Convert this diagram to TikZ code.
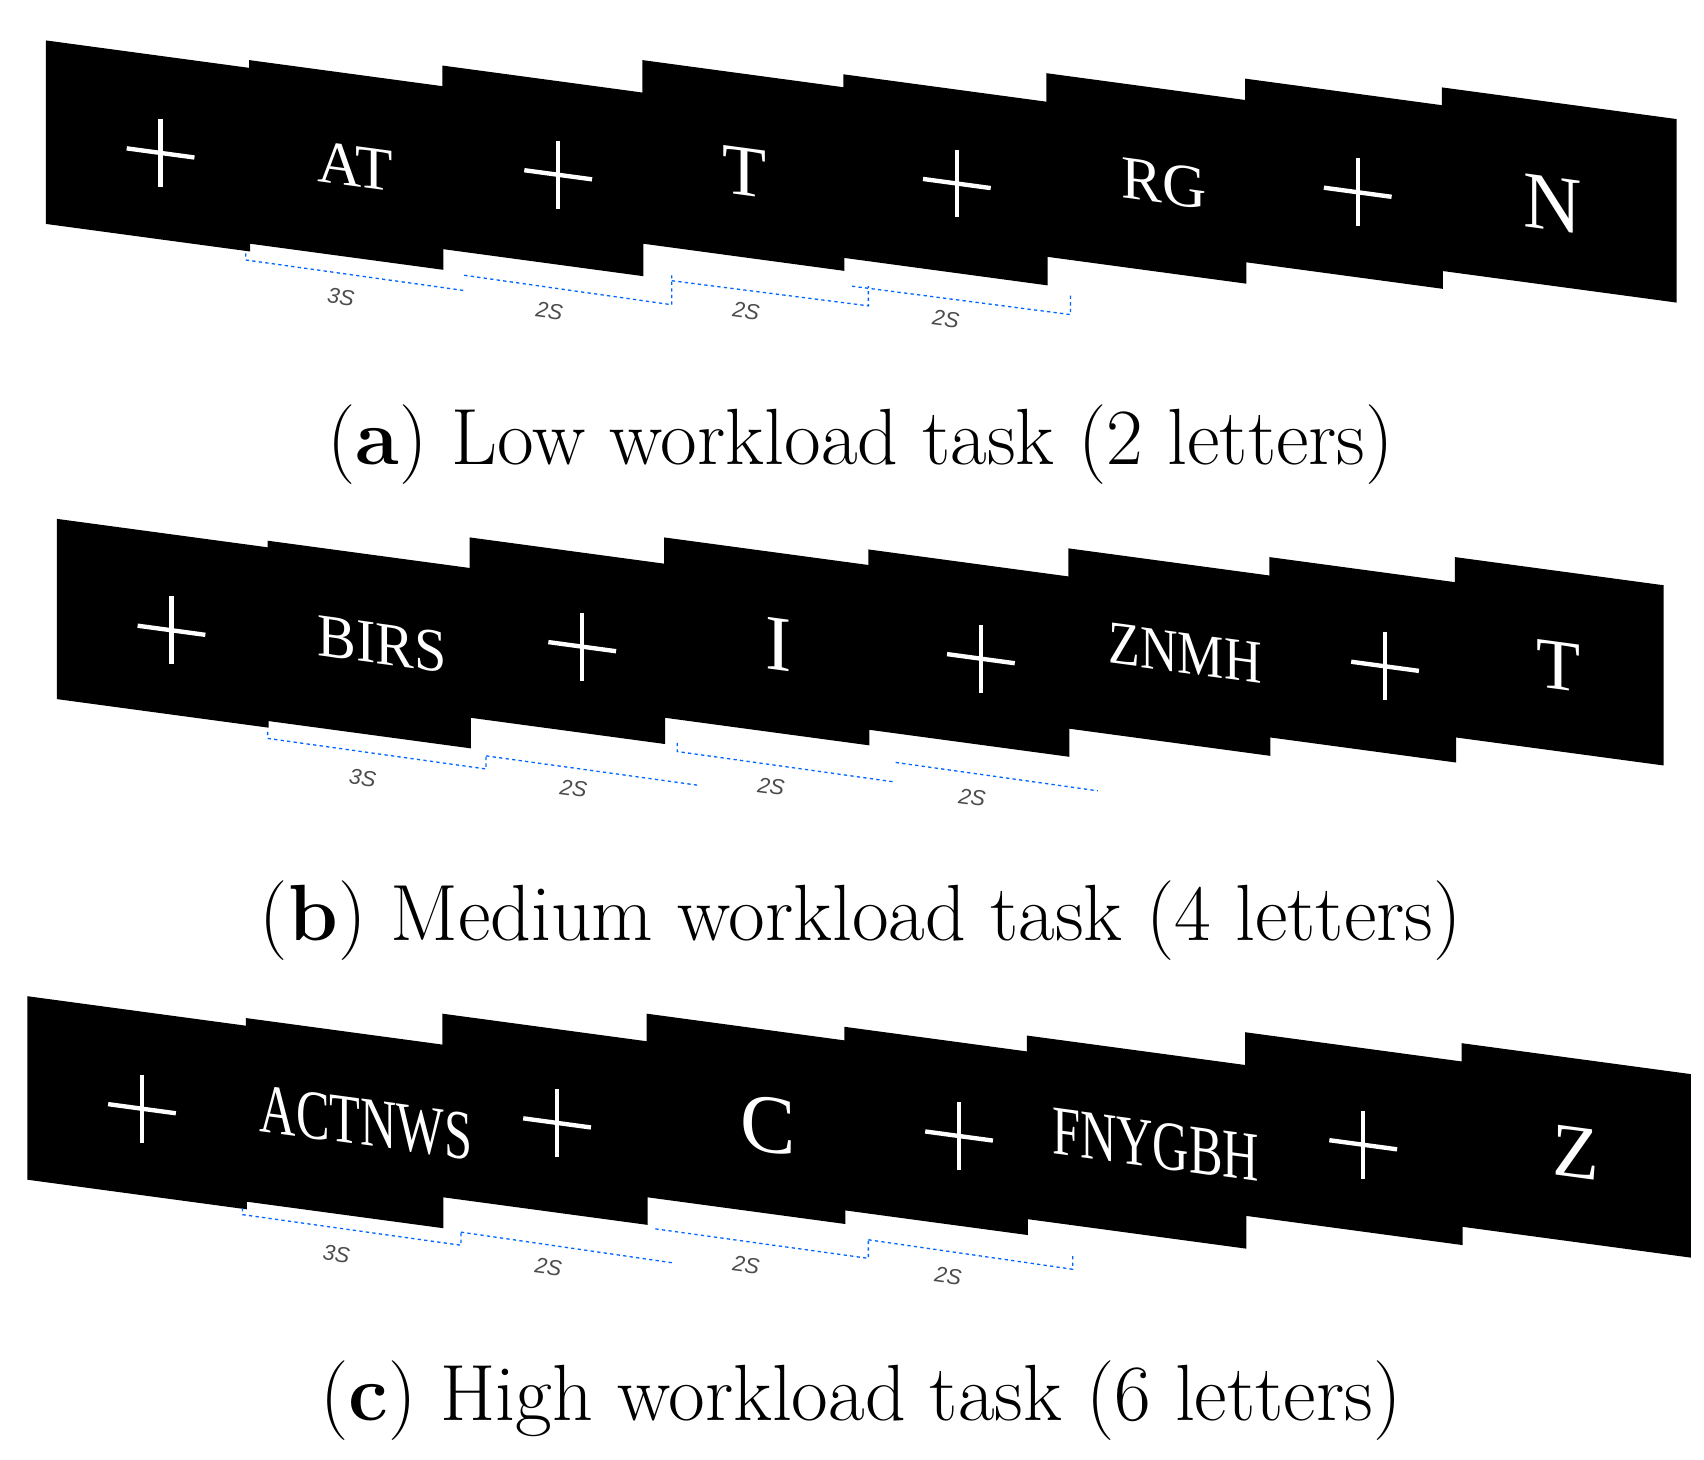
\documentclass[tikz,border=0pt]{standalone}
\usepackage{fontspec}
\newfontfamily\sans{Liberation Sans}
\newfontfamily\lm{Liberation Serif}
\begin{document}
\begin{tikzpicture}[x=1pt,y=-1pt,
  lett/.style={text=white,font=\lm\fontsize{56}{56}\selectfont,yslant=-0.135,inner sep=0},
  dur/.style={text=black!70,font=\sans\itshape\fontsize{20}{20}\selectfont,rotate=-7.7,inner sep=0},
  captxt/.style={font=\fontsize{73}{73}\selectfont,inner sep=0},
  br/.style={draw=blue!60!cyan,dashed,line width=1.2pt}]
\useasboundingbox (0,0) rectangle (1560,1336);
\def\s{0.135}
\newcommand\row[3]{% list of x/t, right end, height
  \foreach \xa/\ta/\xb in {#1} {
    \fill[black] (\xa,\ta) -- (\xb+1,{\ta+\s*(\xb+1-\xa)}) -- (\xb+1,{\ta+\s*(\xb+1-\xa)+#3}) -- (\xa,{\ta+#3}) -- cycle;
  }}
\newcommand\crs[2]{%
  \draw[white,line width=4pt] (#1-31,{#2-0.135*31}) -- (#1+31,{#2+0.135*31});
  \draw[white,line width=4pt] (#1,#2-31) -- (#1,#2+31);}
% row a
\row{42/37/228, 228/55/405, 405/60/588, 588/55/772, 772/68/958, 958/67/1140, 1140/72/1320, 1320/80/1534}{}{168}
\crs{147}{140}\crs{511}{160}\crs{876}{168}\crs{1243}{176}
\node[lett] (a1) at (325,152) {AT};
\node[lett,font=\lm\fontsize{66}{66}\selectfont] (a2) at (682,157) {T};
\node[lett] (a3) at (1066,168) {RG};
\node[lett,font=\lm\fontsize{74}{74}\selectfont] (a4) at (1421,187) {N};
\draw[br] (225,232) -- (225,238) -- (425,266);
\draw[br] (425,252) -- (615,279) -- (615,252);
\draw[br] (615,257) -- (795,280) -- (795,262);
\draw[br] (780,262) -- (980,288) -- (980,270);
\node[dur] (d1) at (312,272) {3S};
\node[dur] (d2) at (503,285) {2S};
\node[dur] (d3) at (683,285) {2S};
\node[dur] (d4) at (866,292) {2S};
\node[captxt] (ca) at (788,407) {(\textbf{a}) Low workload task (2 letters)};
% row b
\row{52/475/245, 245/495/430, 430/492/608, 608/492/795, 795/503/978, 978/502/1162, 1162/510/1332, 1332/510/1522}{}{165}
\crs{157}{577}\crs{533}{592}\crs{898}{603}\crs{1268}{610}
\node[lett,xscale=0.95] (b1) at (350,590) {BIRS};
\node[lett,font=\lm\fontsize{72}{72}\selectfont] (b2) at (713,590) {I};
\node[lett,xscale=0.85] (b3) at (1085,598) {ZNMH};
\node[lett,font=\lm\fontsize{66}{66}\selectfont] (b4) at (1427,610) {T};
\draw[br] (245,670) -- (245,676) -- (445,704) -- (445,690);
\draw[br] (445,692) -- (640,719);
\draw[br] (620,680) -- (620,688) -- (820,716);
\draw[br] (820,698) -- (1005,724);
\node[dur] (e1) at (332,712) {3S};
\node[dur] (e2) at (525,722) {2S};
\node[dur] (e3) at (706,720) {2S};
\node[dur] (e4) at (890,730) {2S};
\node[captxt] (cb) at (788,843) {(\textbf{b}) Medium workload task (4 letters)};
% row c
\row{25/912/225, 225/932/405, 405/928/592, 592/928/773, 773/940/940, 940/948/1140, 1140/945/1338, 1338/955/1547}{}{168}
\crs{130}{1015}\crs{510}{1028}\crs{878}{1040}\crs{1248}{1048}
\node[lett,xscale=0.72,font=\lm\fontsize{64}{64}\selectfont] (c1) at (335,1028) {ACTNWS};
\node[lett,font=\lm\fontsize{76}{76}\selectfont] (c2) at (703,1030) {C};
\node[lett,xscale=0.72,font=\lm\fontsize{64}{64}\selectfont] (c3) at (1058,1048) {FNYGBH};
\node[lett,font=\lm\fontsize{70}{70}\selectfont] (c4) at (1443,1055) {Z};
\draw[br] (222,1106) -- (222,1112) -- (422,1140) -- (422,1128);
\draw[br] (422,1128) -- (615,1156);
\draw[br] (600,1125) -- (795,1152) -- (795,1135);
\draw[br] (795,1135) -- (982,1162) -- (982,1148);
\node[dur] (f1) at (308,1148) {3S};
\node[dur] (f2) at (502,1160) {2S};
\node[dur] (f3) at (683,1158) {2S};
\node[dur] (f4) at (868,1168) {2S};
\node[captxt] (cc) at (788,1282) {(\textbf{c}) High workload task (6 letters)};
\end{tikzpicture}
\end{document}
